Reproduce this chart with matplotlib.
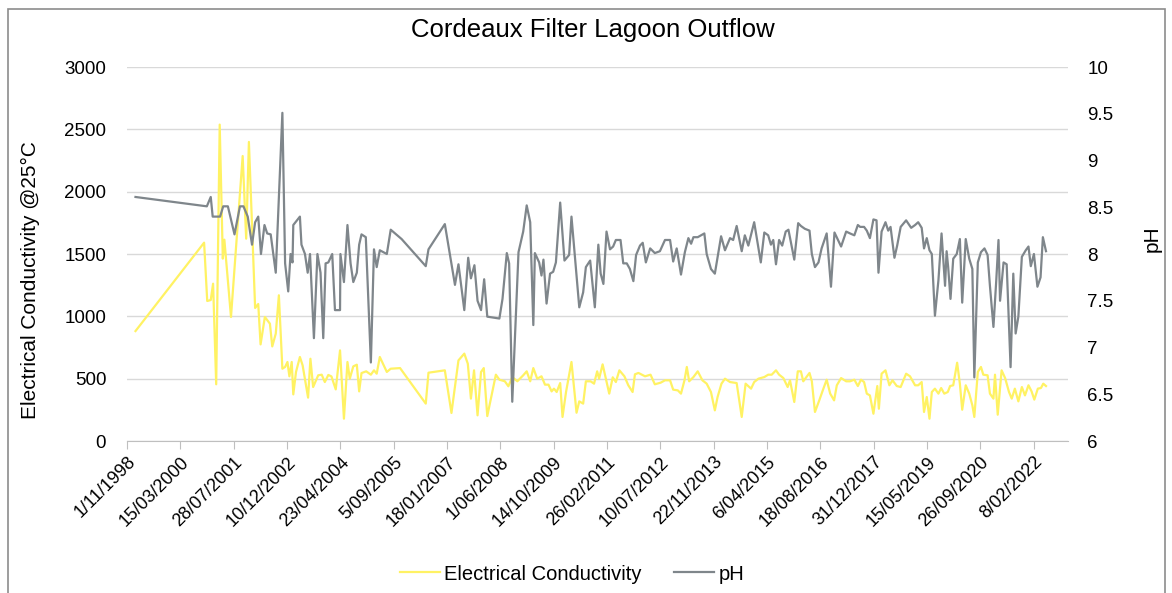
import datetime as dt
import matplotlib
matplotlib.use("Agg")
import matplotlib.pyplot as plt
from matplotlib.lines import Line2D

plt.rcParams['font.family'] = ['Liberation Sans', 'DejaVu Sans']

# sample times (decimal years) and values
ec_year = [1999.05, 2000.81, 2000.89, 2000.98, 2001.04, 2001.12, 2001.21, 2001.29, 2001.33, 2001.50,
           2001.80, 2001.89, 2001.96, 2002.12, 2002.20, 2002.26, 2002.37,
           2002.50, 2002.56, 2002.65, 2002.73, 2002.82, 2002.89, 2002.95, 2003.00, 2003.06, 2003.10,
           2003.17, 2003.27, 2003.34, 2003.48, 2003.54, 2003.61, 2003.74, 2003.83, 2003.91, 2004.00,
           2004.08, 2004.19, 2004.30, 2004.40, 2004.49, 2004.55, 2004.64, 2004.73, 2004.79, 2004.85,
           2004.97, 2005.09, 2005.17, 2005.24, 2005.32, 2005.50, 2005.60, 2005.84,
           2006.50, 2006.57, 2006.99, 2007.16, 2007.34, 2007.49, 2007.58, 2007.66, 2007.74, 2007.83,
           2007.92, 2007.99, 2008.08, 2008.30, 2008.39, 2008.53, 2008.62, 2008.72, 2008.85, 2009.00,
           2009.09, 2009.18, 2009.26,
           2009.36, 2009.47, 2009.56, 2009.65, 2009.73, 2009.79, 2009.86, 2009.95, 2010.01, 2010.10,
           2010.24, 2010.37, 2010.44, 2010.54, 2010.61, 2010.73, 2010.82, 2010.90, 2010.95, 2011.04,
           2011.21, 2011.30, 2011.38, 2011.47, 2011.60, 2011.70, 2011.81, 2011.87, 2011.96, 2012.13,
           2012.27, 2012.38, 2012.53, 2012.64, 2012.77,
           2012.85, 2012.97, 2013.05, 2013.14, 2013.20, 2013.26, 2013.37, 2013.48, 2013.60, 2013.71,
           2013.82, 2013.92, 2013.99, 2014.09, 2014.18, 2014.31, 2014.48, 2014.61, 2014.71, 2014.85,
           2014.93, 2015.04, 2015.19, 2015.29, 2015.38, 2015.49, 2015.57, 2015.68, 2015.79, 2015.85,
           2015.96, 2016.05, 2016.13, 2016.19,
           2016.35, 2016.41, 2016.49, 2016.60, 2016.69, 2016.79, 2016.88, 2016.98, 2017.05, 2017.16,
           2017.29, 2017.39, 2017.50, 2017.59, 2017.67, 2017.75, 2017.82, 2017.90, 2017.99, 2018.09,
           2018.13, 2018.20, 2018.30, 2018.40, 2018.48, 2018.59, 2018.69, 2018.83, 2018.93, 2019.06,
           2019.14, 2019.23, 2019.29, 2019.36, 2019.43, 2019.49, 2019.57,
           2019.66, 2019.73, 2019.81, 2019.90, 2019.96, 2020.04, 2020.14, 2020.21, 2020.27, 2020.36,
           2020.45, 2020.53, 2020.58, 2020.67, 2020.75, 2020.81, 2020.92, 2020.98, 2021.07, 2021.11,
           2021.18, 2021.28, 2021.37, 2021.47, 2021.54, 2021.62, 2021.71, 2021.80, 2021.88, 2021.97,
           2022.05, 2022.12, 2022.21, 2022.29, 2022.35, 2022.42]
ec = [882, 1591, 1123, 1131, 1262, 455, 2538, 1463, 1615, 995,
      2286, 1623, 2399, 1067, 1099, 775, 995,
      941, 759, 861, 1169, 580, 594, 634, 519, 634, 374,
      554, 674, 607, 348, 660, 433, 527, 532, 473, 530,
      518, 414, 727, 179, 634, 500, 599, 612, 398, 545,
      559, 532, 567, 540, 674, 554, 580, 585,
      300, 548, 567, 225, 647, 701, 620, 340, 567, 206,
      554, 585, 200, 532, 492, 479, 439, 513, 479, 527,
      559, 479, 585,
      500, 519, 452, 452, 398, 420, 393, 465, 193, 393,
      634, 227, 318, 300, 479, 479, 460, 559, 500, 615,
      380, 511, 473, 567, 519, 447, 393, 535, 546, 519,
      532, 455, 468, 487, 487,
      412, 406, 380, 487, 594, 479, 513, 559, 487, 460,
      393, 246, 353, 460, 500, 473, 465, 193, 460, 420,
      473, 500, 513, 532, 532, 567, 532, 505, 433, 487,
      313, 559, 559, 479,
      546, 479, 233, 326, 406, 492, 380, 326, 447, 505,
      479, 479, 492, 441, 492, 473, 380, 366, 219, 441,
      259, 540, 567, 447, 487, 441, 433, 540, 519, 447,
      447, 473, 233, 353, 179, 393, 420,
      380, 425, 380, 393, 441, 447, 628, 460, 251, 447,
      380, 286, 193, 554, 594, 532, 527, 380, 340, 532,
      211, 567, 505, 393, 340, 420, 318, 433, 366, 447,
      398, 332, 420, 425, 460, 441]

ph_year = [1999.05, 2000.88, 2000.98, 2001.03, 2001.22, 2001.30, 2001.42, 2001.59, 2001.73, 2001.82,
           2001.93, 2002.04, 2002.12, 2002.20, 2002.27, 2002.36,
           2002.43, 2002.52, 2002.65, 2002.82, 2002.89, 2002.97, 2003.03, 2003.08, 2003.10, 2003.27,
           2003.31, 2003.40, 2003.47, 2003.53, 2003.63, 2003.72, 2003.80, 2003.87, 2003.93, 2004.00,
           2004.10, 2004.17, 2004.30, 2004.31, 2004.40, 2004.49, 2004.57, 2004.64, 2004.73, 2004.79,
           2004.85, 2004.96, 2005.09, 2005.17, 2005.24, 2005.32, 2005.50, 2005.60,
           2005.88, 2006.50, 2006.57, 2006.99, 2007.25, 2007.34, 2007.49, 2007.59, 2007.66, 2007.75,
           2007.83, 2007.92, 2008.00, 2008.08, 2008.39, 2008.47, 2008.58, 2008.64, 2008.72, 2008.88,
           2009.00, 2009.09, 2009.18, 2009.26,
           2009.30, 2009.41, 2009.47, 2009.52, 2009.60, 2009.69, 2009.77, 2009.84, 2009.95, 2010.06,
           2010.18, 2010.24, 2010.44, 2010.54, 2010.61, 2010.72, 2010.84, 2010.93, 2010.99, 2011.06,
           2011.14, 2011.23, 2011.31, 2011.38, 2011.50, 2011.57, 2011.66, 2011.74, 2011.83, 2011.90,
           2012.00, 2012.07, 2012.15, 2012.26, 2012.38, 2012.51, 2012.64, 2012.77,
           2012.85, 2012.94, 2013.05, 2013.15, 2013.24, 2013.31, 2013.37, 2013.48, 2013.65, 2013.71,
           2013.82, 2013.92, 2014.08, 2014.18, 2014.31, 2014.39, 2014.48, 2014.61, 2014.69, 2014.78,
           2014.93, 2015.10, 2015.19, 2015.29, 2015.36, 2015.42, 2015.49, 2015.57, 2015.65, 2015.74,
           2015.81, 2015.96, 2016.06, 2016.13, 2016.23,
           2016.35, 2016.41, 2016.49, 2016.58, 2016.66, 2016.79, 2016.90, 2016.99, 2017.07, 2017.16,
           2017.29, 2017.39, 2017.50, 2017.59, 2017.65, 2017.75, 2017.82, 2017.90, 2017.99, 2018.07,
           2018.12, 2018.20, 2018.30, 2018.37, 2018.43, 2018.53, 2018.60, 2018.69, 2018.83, 2018.96,
           2019.06, 2019.14, 2019.23, 2019.29, 2019.36, 2019.43, 2019.49, 2019.57,
           2019.66, 2019.74, 2019.83, 2019.87, 2019.91, 2019.97, 2020.04, 2020.13, 2020.21, 2020.27,
           2020.36, 2020.45, 2020.53, 2020.58, 2020.67, 2020.75, 2020.84, 2020.92, 2020.98, 2021.07,
           2021.14, 2021.20, 2021.24, 2021.33, 2021.41, 2021.51, 2021.58, 2021.64, 2021.71, 2021.80,
           2021.90, 2021.97, 2022.03, 2022.11, 2022.20, 2022.28, 2022.34, 2022.42]
ph = [8.61, 8.51, 8.61, 8.40, 8.40, 8.51, 8.51, 8.21, 8.51, 8.51,
      8.40, 8.10, 8.34, 8.40, 8.00, 8.31,
      8.22, 8.21, 7.80, 9.51, 7.90, 7.60, 8.00, 7.91, 8.31, 8.40,
      8.10, 8.00, 7.80, 8.00, 7.10, 8.00, 7.80, 7.10, 7.90, 7.91,
      8.00, 7.40, 7.40, 8.00, 7.70, 8.31, 7.90, 7.70, 7.80, 8.10,
      8.21, 8.18, 6.84, 8.05, 7.86, 8.04, 8.00, 8.26,
      8.16, 7.87, 8.05, 8.32, 7.67, 7.89, 7.40, 7.96, 7.74, 7.88,
      7.50, 7.40, 7.73, 7.33, 7.31, 7.52, 8.01, 7.90, 6.42, 8.02,
      8.24, 8.52, 8.34, 7.24,
      8.01, 7.91, 7.77, 7.94, 7.47, 7.79, 7.81, 7.91, 8.55, 7.93,
      7.99, 8.40, 7.43, 7.59, 7.86, 7.93, 7.43, 8.10, 7.79, 7.68,
      8.24, 8.05, 8.08, 8.15, 8.15, 7.90, 7.90, 7.84, 7.71, 7.99,
      8.09, 8.12, 7.91, 8.06, 8.01, 8.03, 8.15, 8.15,
      7.92, 8.06, 7.78, 8.02, 8.17, 8.11, 8.18, 8.18, 8.22, 8.00,
      7.84, 7.79, 8.19, 8.04, 8.17, 8.15, 8.30, 8.03, 8.20, 8.09,
      8.34, 7.91, 8.23, 8.20, 8.10, 8.15, 7.89, 8.15, 8.09, 8.24,
      8.26, 7.94, 8.33, 8.30, 8.27,
      8.25, 8.00, 7.86, 7.91, 8.06, 8.22, 7.65, 8.23, 8.16, 8.08,
      8.24, 8.22, 8.20, 8.31, 8.29, 8.29, 8.25, 8.17, 8.37, 8.36,
      7.80, 8.24, 8.34, 8.25, 8.29, 7.96, 8.09, 8.29, 8.36, 8.28,
      8.31, 8.34, 8.28, 8.06, 8.17, 8.04, 8.00, 7.34,
      7.72, 8.22, 7.66, 8.03, 7.86, 7.52, 7.95, 8.00, 8.16, 7.48,
      8.16, 7.95, 7.84, 6.68, 7.91, 8.02, 8.06, 7.99, 7.66, 7.22,
      7.70, 8.15, 7.50, 7.91, 7.89, 6.79, 7.79, 7.15, 7.33, 7.97,
      8.04, 8.08, 7.87, 8.00, 7.65, 7.75, 8.18, 8.03]

ec_ticks = [0, 500, 1000, 1500, 2000, 2500, 3000]
ph_ticks = [6, 6.5, 7, 7.5, 8, 8.5, 9, 9.5, 10]

EC_COLOR = '#FFF263'
PH_COLOR = '#7F868B'
GRID = '#D9D9D9'


def to_date(y):
    yr = int(y)
    start = dt.datetime(yr, 1, 1)
    days = (dt.datetime(yr + 1, 1, 1) - start).days
    return start + dt.timedelta(days=(y - yr) * days)


def draw_chart():
    ec_dates = [to_date(y) for y in ec_year]
    ph_dates = [to_date(y) for y in ph_year]

    fig = plt.figure(figsize=(11.72, 5.93), dpi=100)
    ax = fig.add_axes([0.1084, 0.2563, 0.8029, 0.6307])
    ax2 = ax.twinx()

    ax.plot(ec_dates, ec, color=EC_COLOR, lw=1.6, zorder=3)
    ax2.plot(ph_dates, ph, color=PH_COLOR, lw=1.6, zorder=3)

    x0 = dt.datetime(1998, 11, 1)
    ax.set_xlim(x0, x0 + dt.timedelta(days=8822))
    ticks = [x0 + dt.timedelta(days=500 * i) for i in range(18)]
    ax.set_xticks(ticks)
    ax.set_xticklabels(['%d/%02d/%d' % (t.day, t.month, t.year) for t in ticks],
                       rotation=45, ha='right', rotation_mode='anchor', fontsize=13)

    ax.set_ylim(0, 3000)
    ax.set_yticks(ec_ticks)
    ax.set_yticklabels([str(v) for v in ec_ticks], fontsize=13.5)
    ax2.set_ylim(6, 10)
    ax2.set_yticks(ph_ticks)
    ax2.set_yticklabels(['%g' % v for v in ph_ticks], fontsize=13.5)

    ax.grid(axis='y', color=GRID, lw=1)
    ax.set_axisbelow(True)
    for a in (ax, ax2):
        for s in ('top', 'left', 'right'):
            a.spines[s].set_visible(False)
        a.spines['bottom'].set_color('#BFBFBF')
    ax2.spines['bottom'].set_visible(False)
    ax.tick_params(axis='x', length=6, color='#BFBFBF', pad=3)
    ax.tick_params(axis='y', length=0, pad=15)
    ax2.tick_params(axis='y', length=0, pad=14)

    ax.set_ylabel('Electrical Conductivity @25\u00b0C', fontsize=15)
    ax.yaxis.set_label_coords(-0.093, 0.43)
    ax2.set_ylabel('pH', fontsize=15)
    ax2.yaxis.set_label_coords(1.079, 0.54)
    fig.text(0.506, 1 - 30 / 593, 'Cordeaux Filter Lagoon Outflow', fontsize=18.5,
             ha='center', va='center')

    handles = [Line2D([], [], color=EC_COLOR, lw=1.6), Line2D([], [], color=PH_COLOR, lw=1.6)]
    fig.legend(handles, ['Electrical Conductivity', 'pH'], loc='center',
               bbox_to_anchor=(572 / 1172, 1 - 574 / 593), ncol=2, frameon=False,
               fontsize=14.5, handlelength=2.0, handletextpad=0.2, columnspacing=1.6)

    # outer chart border
    fig.add_artist(plt.Rectangle((8 / 1172, -0.01), 1157 / 1172, 1 - 9 / 593 + 0.01,
                                 transform=fig.transFigure, fill=False,
                                 edgecolor='#8C8C8C', lw=1.2))

    plt.savefig('out.png', dpi=100)


if __name__ == '__main__':
    draw_chart()
